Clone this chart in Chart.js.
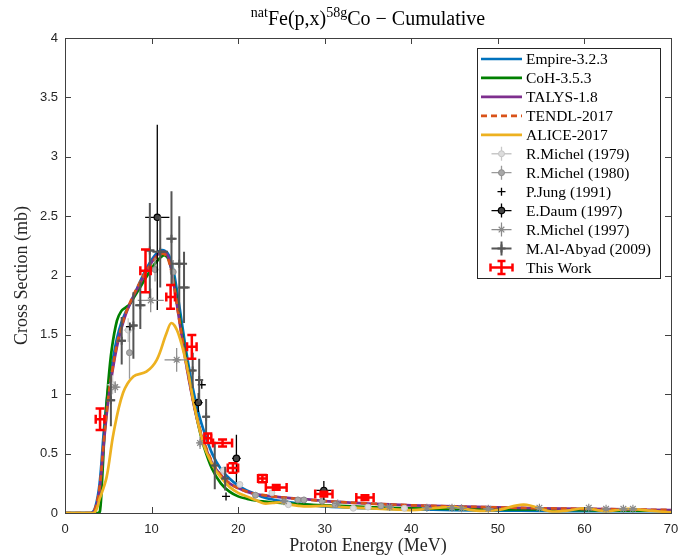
<!DOCTYPE html>
<html><head><meta charset="utf-8">
<script src="https://cdn.jsdelivr.net/npm/chart.js@4/dist/chart.umd.min.js"></script>
<style>html,body{margin:0;padding:0;background:#fff}canvas{display:block}</style>
</head><body>
<canvas id="c" width="691" height="560"></canvas>
<script>
// ---------- model curves ----------
const empireE  = [0,3,3.5,4,4.5,5,5.5,6,6.5,7,7.5,8,8.5,9,9.5,10,10.5,11,11.5,12,12.5,13,13.5,14,14.5,15,15.5,16,17,18,19,20,21,22,23,25,28,30,35,40,45,50,55,60,65,70];
const empireXS = [0,0,0.05,0.25,0.7,1.05,1.28,1.47,1.6,1.69,1.76,1.84,1.92,2.0,2.07,2.13,2.18,2.21,2.21,2.17,2.05,1.84,1.6,1.36,1.15,0.97,0.82,0.7,0.5,0.37,0.29,0.23,0.19,0.16,0.13,0.1,0.07,0.055,0.04,0.03,0.025,0.02,0.018,0.015,0.015,0.015];
const cohE  = [0,3.8,4.05,4.3,4.6,5,5.4,6,6.5,7,7.5,8,8.5,9,9.5,10,10.5,11,11.5,12,12.5,13,13.5,14,14.5,15,15.5,16,17,18,19,20,21,22,24,26,28,30,35,40,45,50,55,60,65,70];
const cohXS = [0,0,0.02,0.3,0.72,1.1,1.38,1.62,1.7,1.73,1.76,1.82,1.88,1.94,2.0,2.06,2.11,2.15,2.17,2.13,1.98,1.76,1.52,1.29,1.07,0.88,0.71,0.57,0.37,0.25,0.18,0.14,0.12,0.105,0.09,0.08,0.07,0.065,0.05,0.04,0.035,0.03,0.03,0.025,0.02,0.02];
const talysE  = [0,3,3.5,4,4.5,5,5.5,6,6.5,7,7.5,8,8.5,9,9.5,10,10.5,11,11.5,12,12.5,13,13.5,14,14.5,15,15.5,16,17,18,19,20,21,22,24,26,28,30,35,40,45,50,55,60,65,70];
const talysXS = [0,0,0.03,0.2,0.6,0.95,1.2,1.4,1.55,1.67,1.76,1.84,1.91,1.98,2.05,2.11,2.16,2.19,2.2,2.14,1.96,1.72,1.48,1.25,1.05,0.87,0.72,0.6,0.42,0.32,0.25,0.21,0.18,0.16,0.14,0.125,0.115,0.1,0.08,0.065,0.055,0.047,0.04,0.035,0.03,0.025];
const tendlE  = [0,3,3.5,4,4.5,5,5.5,6,6.5,7,7.5,8,8.5,9,9.5,10,10.5,11,11.5,12,12.5,13,13.5,14,14.5,15,15.5,16,17,18,19,20,21,22,24,26,28,30,35,40,45,50,55,60,65,70];
const tendlXS = [0,0,0.04,0.22,0.62,0.97,1.22,1.42,1.56,1.68,1.77,1.85,1.92,1.99,2.05,2.1,2.15,2.18,2.18,2.12,1.95,1.72,1.49,1.26,1.06,0.88,0.73,0.61,0.43,0.32,0.25,0.21,0.18,0.16,0.14,0.125,0.112,0.1,0.08,0.065,0.055,0.047,0.04,0.035,0.03,0.025];
const aliceE  = [0,3.3,4,4.8,5.6,6.7,7.9,9.4,10.6,11.7,12.3,13.1,14.1,15,16,17,18,19,20,21,22,23,24,25,26,27,28,30,32,35,38,40,42.5,45,47.5,50,53,56,58,60,62.5,65,67.5,70];
const aliceXS = [0,0,0.12,0.3,0.67,1.01,1.15,1.19,1.29,1.51,1.6,1.51,1.23,0.88,0.58,0.41,0.3,0.22,0.17,0.14,0.11,0.08,0.085,0.09,0.07,0.06,0.055,0.06,0.05,0.04,0.03,0.025,0.04,0.05,0.02,0.025,0.07,0.015,0.02,0.04,0.015,0.035,0.02,0.005];

// ---------- experimental data ----------
const michel79E   = [5.5,7.3,18.3,20.2,23.9,25.8,33.3,35.0,39.2];
const michel79XS  = [1.08,1.54,0.36,0.24,0.17,0.07,0.04,0.05,0.04];
const michel79dE  = [0.6,0.5,0.3,0.3,0.3,0.3,0.4,0.4,0.4];
const michel79dXS = [0.08,0.1,0.03,0.02,0.02,0.01,0.01,0.01,0.01];

const michel80E   = [7.45,10.4,12.5,22.0,26.9,27.6,29.7,31.2,36.5];
const michel80XS  = [1.35,2.05,2.03,0.15,0.11,0.11,0.10,0.07,0.06];
const michel80dE  = [0.3,0.3,0.3,0.4,0.4,0.4,0.4,0.4,0.4];
const michel80dXS = [0.22,0.1,0.1,0.02,0.01,0.01,0.01,0.01,0.01];

const jungE  = [7.5,15.8,18.6];
const jungXS = [1.57,1.08,0.14];

const daumE   = [10.66,15.4,19.8,29.9];
const daumXS  = [2.49,0.93,0.46,0.19];
const daumdE  = [1.4,0.5,0.5,0.87];
const daumdXS = [0.78,0.08,0.2,0.08];

const michel97E   = [5.8,9.9,12.9,15.6,25.3,31.5,37.5,41.8,44.7,45.8,48.9,54.8,60.5,62.5,64.5,65.6];
const michel97XS  = [1.06,1.79,1.29,0.59,0.10,0.08,0.05,0.045,0.045,0.04,0.035,0.045,0.045,0.035,0.035,0.035];
const michel97dE  = [0.6,1.5,1.4,0.3,0.5,0.5,0.5,0.6,0.6,0.6,0.6,0.5,0.5,0.5,0.5,0.5];
const michel97dXS = [0.05,0.1,0.1,0.05,0.01,0.01,0.01,0.005,0.005,0.005,0.005,0.005,0.005,0.005,0.005,0.005];

const abyadE   = [5.3,6.55,7.9,8.7,9.8,11.0,12.3,13.2,13.75,14.75,15.5,16.3,17.3,18.5];
const abyadXS  = [0.95,1.45,1.58,1.75,2.21,2.2,2.31,2.1,1.9,1.2,1.12,0.81,0.40,0.29];
const abyaddE  = [0.5,0.5,0.5,0.6,0.55,0.9,0.6,0.9,0.65,0.3,0.3,0.4,0.3,0.4];
const abyaddXS = [0.22,0.2,0.28,0.2,0.4,0.3,0.4,0.4,0.3,0.15,0.18,0.15,0.2,0.1];

const workE   = [4.05,9.3,12.2,14.65,16.5,18.2,19.4,22.8,24.4,29.9,34.65];
const workXS  = [0.79,2.04,1.82,1.40,0.63,0.59,0.38,0.29,0.215,0.16,0.13];
const workdE  = [0.5,0.6,0.5,0.55,0.4,1.1,0.6,0.5,1.2,1.0,1.0];
const workdXS = [0.09,0.18,0.10,0.10,0.04,0.03,0.04,0.03,0.02,0.02,0.02];

// ---------- axis ticks ----------
const xTicks = [0,10,20,30,40,50,60,70];
const yTicks = [0,0.5,1,1.5,2,2.5,3,3.5,4];
const yTickLabels = ['0','0.5','1','1.5','2','2.5','3','3.5','4'];

const pts = (xs, ys) => xs.map((x, i) => ({x, y: ys[i]}));

const SERIF = '"Liberation Serif", "DejaVu Serif", serif';
const SANS = '"Liberation Sans", Arial, sans-serif';

function curve(label, E, XS, color, order, dash) {
  return {label, data: pts(E, XS), showLine: true, borderColor: color, backgroundColor: color,
    borderWidth: 2.7, pointRadius: 0, pointHoverRadius: 0, tension: 0.35,
    borderDash: dash || [], order, kind: 'line'};
}
function exp(label, E, XS, dE, dXS, o) {
  return Object.assign({label, data: pts(E, XS), showLine: false, errX: dE, errY: dXS}, o);
}

const datasets = [
  exp('This Work', workE, workXS, workdE, workdXS, {pointRadius: 0, errColor: '#ff0000', errWidth: 2.5, cap: 4.5, order: 0}),
  exp('M.Al-Abyad (2009)', abyadE, abyadXS, abyaddE, abyaddXS, {pointStyle: 'cross', pointRadius: 4, borderWidth: 2, borderColor: '#555555', backgroundColor: '#555555', errColor: '#555555', errWidth: 2, order: 1}),
  exp('R.Michel (1997)', michel97E, michel97XS, michel97dE, michel97dXS, {pointStyle: 'star', pointRadius: 4, borderWidth: 1.2, borderColor: '#8a8a8a', backgroundColor: '#8a8a8a', errColor: '#8a8a8a', errWidth: 1.2, order: 2}),
  exp('E.Daum (1997)', daumE, daumXS, daumdE, daumdXS, {pointStyle: 'circle', pointRadius: 3.2, borderWidth: 1.2, borderColor: '#000000', backgroundColor: '#444444', errColor: '#000000', errWidth: 1.3, order: 3}),
  exp('P.Jung (1991)', jungE, jungXS, null, null, {pointStyle: 'cross', pointRadius: 4, borderWidth: 1.3, borderColor: '#000000', backgroundColor: '#000000', order: 4}),
  exp('R.Michel (1980)', michel80E, michel80XS, michel80dE, michel80dXS, {pointStyle: 'circle', pointRadius: 3, borderWidth: 1, borderColor: '#8c8c8c', backgroundColor: '#a8a8a8', errColor: '#9a9a9a', errWidth: 1.3, order: 5}),
  exp('R.Michel (1979)', michel79E, michel79XS, michel79dE, michel79dXS, {pointStyle: 'circle', pointRadius: 3, borderWidth: 1, borderColor: '#c4c4c4', backgroundColor: '#dcdcdc', errColor: '#c8c8c8', errWidth: 1.3, order: 6}),
  curve('ALICE-2017', aliceE, aliceXS, '#EDB120', 10),
  curve('TENDL-2017', tendlE, tendlXS, '#D95319', 11, [6, 4]),
  curve('TALYS-1.8', talysE, talysXS, '#7E2F8E', 12),
  curve('CoH-3.5.3', cohE, cohXS, '#008000', 13),
  curve('Empire-3.2.3', empireE, empireXS, '#0072BD', 14),
];

const legendOrder = ['Empire-3.2.3','CoH-3.5.3','TALYS-1.8','TENDL-2017','ALICE-2017','R.Michel (1979)','R.Michel (1980)','P.Jung (1991)','E.Daum (1997)','R.Michel (1997)','M.Al-Abyad (2009)','This Work'];

function drawErr(ctx, px, py, x0, x1, y0, y1, cap) {
  ctx.beginPath();
  ctx.moveTo(x0, py); ctx.lineTo(x1, py);
  ctx.moveTo(px, y0); ctx.lineTo(px, y1);
  if (cap) {
    ctx.moveTo(x0, py - cap); ctx.lineTo(x0, py + cap);
    ctx.moveTo(x1, py - cap); ctx.lineTo(x1, py + cap);
    ctx.moveTo(px - cap, y0); ctx.lineTo(px + cap, y0);
    ctx.moveTo(px - cap, y1); ctx.lineTo(px + cap, y1);
  }
  ctx.stroke();
}

const errorBarPlugin = {
  id: 'errorBars',
  beforeDatasetDraw(chart, args) {
    const ds = chart.data.datasets[args.index];
    if (!ds.errX && !ds.errY) return;
    const xs = chart.scales.x, ys = chart.scales.y, ctx = chart.ctx, a = chart.chartArea;
    ctx.save();
    ctx.beginPath(); ctx.rect(a.left, a.top, a.right - a.left, a.bottom - a.top); ctx.clip();
    ctx.strokeStyle = ds.errColor; ctx.lineWidth = ds.errWidth; ctx.lineCap = 'butt';
    ds.data.forEach((p, i) => {
      const dx = ds.errX ? ds.errX[i] : 0, dy = ds.errY ? ds.errY[i] : 0;
      drawErr(ctx, xs.getPixelForValue(p.x), ys.getPixelForValue(p.y),
        xs.getPixelForValue(p.x - dx), xs.getPixelForValue(p.x + dx),
        ys.getPixelForValue(p.y - dy), ys.getPixelForValue(p.y + dy), ds.cap);
    });
    ctx.restore();
  }
};

function drawTextRuns(ctx, runs, cx, baseY, size) {
  let total = 0;
  runs.forEach(r => { ctx.font = (r.sup ? size * 0.7 : size) + 'px ' + SERIF; r.w = ctx.measureText(r.t).width; total += r.w; });
  let x = cx - total / 2;
  ctx.textAlign = 'left'; ctx.textBaseline = 'alphabetic';
  runs.forEach(r => {
    ctx.font = (r.sup ? size * 0.7 : size) + 'px ' + SERIF;
    ctx.fillText(r.t, x, r.sup ? baseY - size * 0.38 : baseY);
    x += r.w;
  });
}

const framePlugin = {
  id: 'frame',
  afterDraw(chart) {
    const ctx = chart.ctx, a = chart.chartArea, xs = chart.scales.x, ys = chart.scales.y;
    ctx.save();
    ctx.strokeStyle = '#404040'; ctx.lineWidth = 1;
    ctx.strokeRect(Math.round(a.left) + 0.5, Math.round(a.top) + 0.5, Math.round(a.right - a.left), Math.round(a.bottom - a.top));
    const TL = 6;
    ctx.beginPath();
    xTicks.forEach(v => {
      const px = Math.round(xs.getPixelForValue(v)) + 0.5;
      ctx.moveTo(px, a.bottom); ctx.lineTo(px, a.bottom - TL);
      ctx.moveTo(px, a.top); ctx.lineTo(px, a.top + TL);
    });
    yTicks.forEach(v => {
      const py = Math.round(ys.getPixelForValue(v)) + 0.5;
      ctx.moveTo(a.left, py); ctx.lineTo(a.left + TL, py);
      ctx.moveTo(a.right, py); ctx.lineTo(a.right - TL, py);
    });
    ctx.stroke();
    ctx.fillStyle = '#000';
    drawTextRuns(ctx, [{t: 'nat', sup: true}, {t: 'Fe(p,x)'}, {t: '58g', sup: true}, {t: 'Co \u2212 Cumulative'}], (a.left + a.right) / 2, 25, 20);
    ctx.font = '18px ' + SERIF; ctx.textAlign = 'center'; ctx.textBaseline = 'middle';
    ctx.fillStyle = '#262626';
    ctx.fillText('Proton Energy (MeV)', (a.left + a.right) / 2, 546);
    ctx.save(); ctx.translate(22, (a.top + a.bottom) / 2); ctx.rotate(-Math.PI / 2);
    ctx.fillText('Cross Section (mb)', 0, 0); ctx.restore();
    const bx = 477, by = 48, bw = 183, bh = 230;
    ctx.fillStyle = '#fff'; ctx.fillRect(bx, by, bw, bh);
    ctx.strokeStyle = '#262626'; ctx.lineWidth = 1; ctx.strokeRect(bx + 0.5, by + 0.5, bw, bh);
    legendOrder.forEach((name, i) => {
      const ds = chart.data.datasets.find(d => d.label === name);
      const y = 59 + i * 18.95, cx = 501.5;
      ctx.save();
      if (ds.kind === 'line') {
        ctx.strokeStyle = ds.borderColor; ctx.lineWidth = ds.borderWidth; ctx.setLineDash(ds.borderDash || []);
        ctx.beginPath(); ctx.moveTo(481, y); ctx.lineTo(522, y); ctx.stroke();
      } else {
        if (ds.errX) {
          ctx.strokeStyle = ds.errColor; ctx.lineWidth = ds.errWidth;
          if (ds.cap) drawErr(ctx, cx, y, cx - 11, cx + 11, y - 6.5, y + 6.5, 4);
          else drawErr(ctx, cx, y, cx - 10, cx + 10, y - 7, y + 7, 0);
        }
        if (ds.pointRadius > 0) {
          ctx.strokeStyle = ds.borderColor; ctx.fillStyle = ds.backgroundColor; ctx.lineWidth = ds.borderWidth;
          Chart.helpers.drawPoint(ctx, {pointStyle: ds.pointStyle, radius: ds.pointRadius, rotation: 0, borderWidth: ds.borderWidth}, cx, y);
        }
      }
      ctx.restore();
      ctx.fillStyle = '#000'; ctx.font = '15.5px ' + SERIF; ctx.textAlign = 'left'; ctx.textBaseline = 'middle';
      ctx.fillText(name, 526, y + 1);
    });
    ctx.restore();
  }
};

new Chart(document.getElementById('c'), {
  type: 'scatter',
  data: {datasets},
  plugins: [errorBarPlugin, framePlugin],
  options: {
    responsive: false, animation: false, devicePixelRatio: 1,
    layout: {padding: {top: 38, right: 20, left: 0, bottom: 0}},
    plugins: {legend: {display: false}, tooltip: {enabled: false}, title: {display: false}},
    scales: {
      x: {type: 'linear', min: 0, max: 70,
        afterBuildTicks: s => { s.ticks = xTicks.map(v => ({value: v})); },
        afterFit: s => { s.height = 47; },
        grid: {display: false, drawTicks: false}, border: {display: false},
        ticks: {padding: 9, color: '#262626', font: {family: SANS, size: 13}, callback: v => String(v), maxRotation: 0}},
      y: {type: 'linear', min: 0, max: 4,
        afterBuildTicks: s => { s.ticks = yTicks.map(v => ({value: v})); },
        afterFit: s => { s.width = 65; },
        grid: {display: false, drawTicks: false}, border: {display: false},
        ticks: {padding: 7, color: '#262626', font: {family: SANS, size: 13}, callback: v => yTickLabels[yTicks.indexOf(v)] ?? String(v)}}
    }
  }
});
</script>
</body></html>
